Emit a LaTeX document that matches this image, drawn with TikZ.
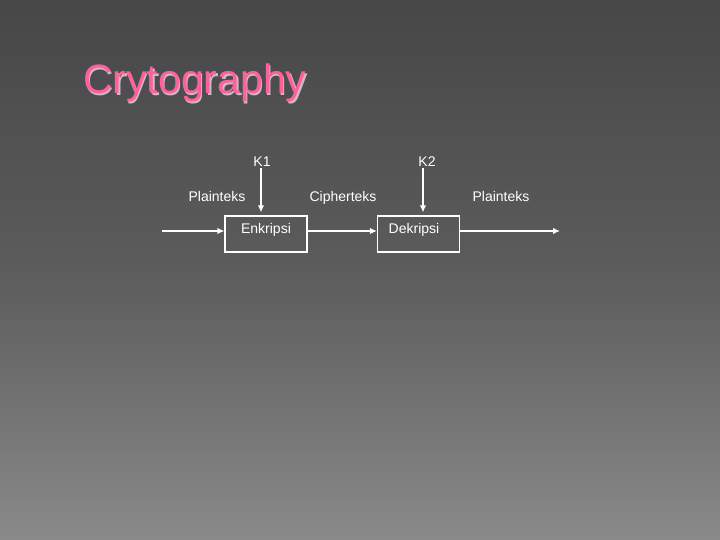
\documentclass[tikz,border=0pt]{standalone}
\usepackage{fontspec}
\setmainfont{Liberation Sans}
\usetikzlibrary{arrows.meta,calc}
\definecolor{bgtop}{RGB}{71,71,71}
\definecolor{bgmid}{RGB}{92,92,92}
\definecolor{bgbot}{RGB}{138,138,138}
\definecolor{titlepink}{RGB}{255,95,155}
\definecolor{titleshadow}{RGB}{205,185,195}
\begin{document}
\begin{tikzpicture}[x=1pt,y=1pt,
  blok/.style={draw=white,line width=1.2pt,minimum width=82pt,minimum height=36pt,inner sep=0pt},
  teks/.style={text=white,font=\fontsize{14}{16}\selectfont,inner sep=0pt,anchor=base},
  panah/.style={draw=white,line width=1.8pt,-{Latex[length=7pt,width=6.5pt]}}]
% background
\useasboundingbox (0,0) rectangle (720,-540);
\shade[top color=bgtop,bottom color=bgbot,middle color=bgmid] (0,0) rectangle (720,-540);
% title
\node[font=\fontsize{41}{48}\selectfont,text=titleshadow,anchor=base west,inner sep=0pt] (judulb) at (84.5,-95.5) {Crytography};
\node[font=\fontsize{41}{48}\selectfont,text=titlepink,anchor=base west,inner sep=0pt] (judul) at (83,-94) {Crytography};
%boxes
\node[blok] (enk) at (266,-234) {};
\node[blok] (dek) at (418.5,-234) {};
\node[teks] (tenk) at (266,-233.5) {Enkripsi};
\node[teks] (tdek) at (414,-233.5) {Dekripsi};
%keys
\node[teks] (k1) at (262,-167) {K1};
\node[teks] (k2) at (427,-167) {K2};
\coordinate (masuk) at (162,-231);
\coordinate (keluar) at (560,-231);
%arrows
\draw[panah] (masuk) -- (masuk -| enk.west);
\draw[panah] (masuk -| enk.east) -- (masuk -| dek.west);
\draw[panah] (masuk -| dek.east) -- (keluar);
\draw[panah] ($(k1.south)+(-1,-1)$) -- ($(enk.north)+(-5,3)$);
\draw[panah] ($(k2.south)+(-4,-1)$) -- ($(dek.north)+(4.5,3)$);
%label
\node[teks] (p1) at (217,-201.5) {Plainteks};
\node[teks] (c1) at (343,-201.5) {Cipherteks};
\node[teks] (p2) at (501,-201.5) {Plainteks};
\end{tikzpicture}
\end{document}
